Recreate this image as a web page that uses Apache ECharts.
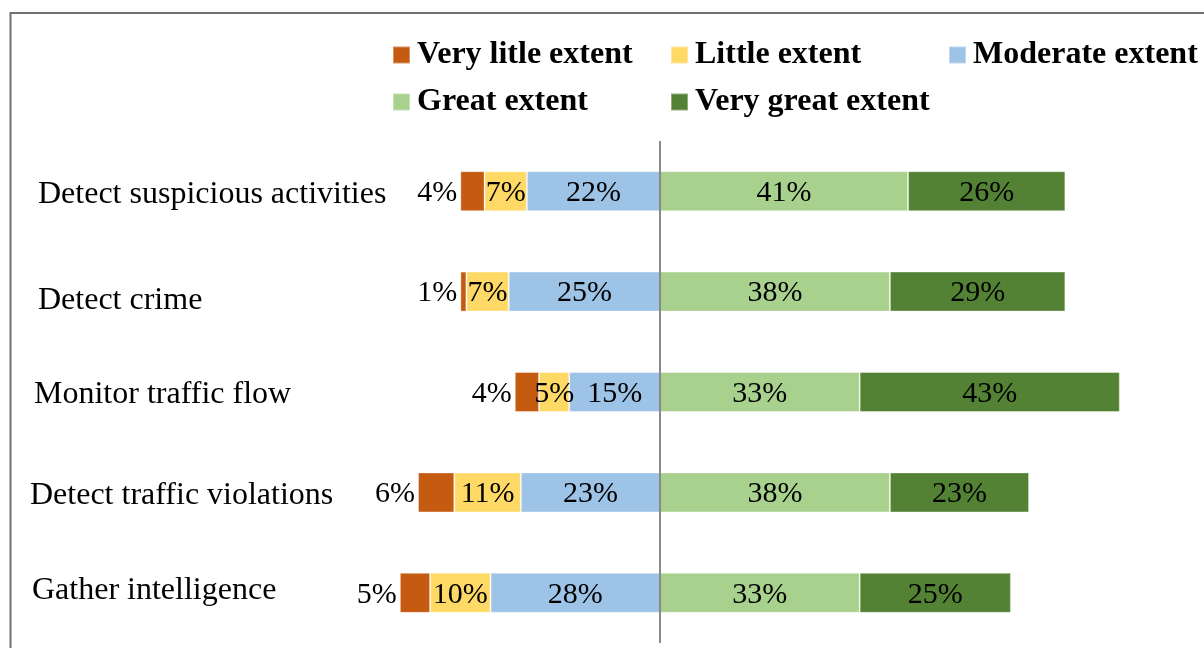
<!DOCTYPE html>
<html>
<head>
<meta charset="utf-8">
<script src="https://cdn.jsdelivr.net/npm/echarts@6/dist/echarts.min.js"></script>
<style>html,body{margin:0;padding:0;background:#fff;}#c{width:1204px;height:648px;}</style>
</head>
<body>
<div id="c"></div>
<script>
const categories = ['Detect suspicious activities', 'Detect crime', 'Monitor traffic flow', 'Detect traffic violations', 'Gather intelligence'];
const seriesNames = ['Very litle extent', 'Little extent', 'Moderate extent', 'Great extent', 'Very great extent'];
const veryLittle = [4, 1, 4, 6, 5];
const little = [7, 7, 5, 11, 10];
const moderate = [22, 25, 15, 23, 28];
const great = [41, 38, 33, 38, 33];
const veryGreat = [26, 29, 43, 23, 25];
const colors = ['#C55A11', '#FFD966', '#9DC3E6', '#A9D18E', '#548235'];

const FONT = '"Liberation Serif", "Times New Roman", serif';
const chart = echarts.init(document.getElementById('c'));
const neg = arr => arr.map(v => -v);
const lbl = (pos) => ({
  show: true, position: pos, distance: 3, offset: [0, 2],
  formatter: p => Math.abs(p.value) + '%',
  color: '#000', fontFamily: FONT, fontSize: 30
});
function bar(name, data, color, pos) {
  return {
    name, type: 'bar', stack: 'total', data, barWidth: 40,
    itemStyle: { color, borderColor: 'rgba(255,255,255,0.35)', borderWidth: 1 },
    label: lbl(pos || 'inside')
  };
}
const labelRich = {
  c0: { padding: [6, 0, 0, 8] },
  c1: { padding: [18, 0, 0, 8] },
  c2: { padding: [6, 0, 0, 4] },
  c3: { padding: [6, 0, 0, 0] },
  c4: { padding: [0, 0, 4, 2] }
};
Object.keys(labelRich).forEach(k => { labelRich[k].fontFamily = FONT; labelRich[k].fontSize = 32; labelRich[k].color = '#000'; });

const moderateSeries = bar(seriesNames[2], neg(moderate), colors[2]);
moderateSeries.markLine = {
  silent: true, symbol: 'none', label: { show: false },
  lineStyle: { color: '#8a8a8a', width: 2, type: 'solid' },
  data: [{ xAxis: 0 }]
};

chart.setOption({
  animation: false,
  color: colors,
  graphic: [{
    type: 'rect', shape: { x: 10.5, y: 13, width: 1400, height: 800 },
    style: { fill: 'none', stroke: '#6f6f6f', lineWidth: 2 }, silent: true, z: -1
  }],
  legend: {
    data: seriesNames,
    left: 387, top: 34, width: 830,
    itemWidth: 17, itemHeight: 17, itemGap: 15, icon: 'rect',
    textStyle: { fontFamily: FONT, fontSize: 32, fontWeight: 'bold', color: '#000', width: 238, lineHeight: 23, padding: [0, 0, 0, 2] }
  },
  grid: { left: 357.5, right: 60, top: 141, bottom: 5 },
  xAxis: { type: 'value', min: -50, max: 80, show: false },
  yAxis: {
    type: 'category', data: categories, inverse: true,
    axisLine: { show: false }, axisTick: { show: false }, splitLine: { show: false },
    axisLabel: {
      align: 'left', margin: 327.5,
      formatter: (v, i) => '{c' + i + '|' + v + '}',
      rich: labelRich
    }
  },
  series: [
    moderateSeries,
    bar(seriesNames[1], neg(little), colors[1]),
    bar(seriesNames[0], neg(veryLittle), colors[0], 'left'),
    bar(seriesNames[3], great, colors[3]),
    bar(seriesNames[4], veryGreat, colors[4])
  ]
});
</script>
</body>
</html>
